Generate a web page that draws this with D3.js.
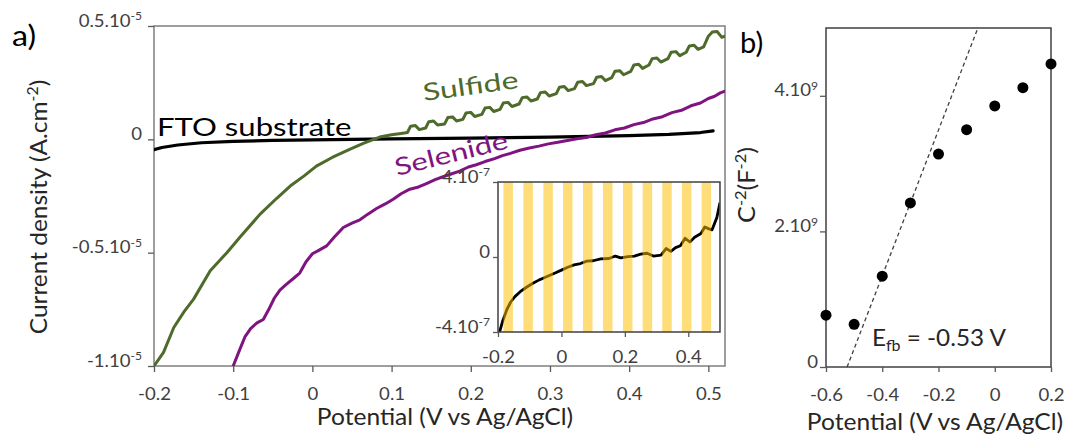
<!DOCTYPE html>
<html>
<head>
<meta charset="utf-8">
<script src="https://cdn.jsdelivr.net/npm/d3@7"></script>
<style>
  body { margin: 0; background: #fff; }
  text { font-family: Lato, sans-serif; white-space: pre; }
</style>
</head>
<body>
<svg id="chart" width="1070" height="434"></svg>
<script>
// ---- panel a : linear sweep voltammetry (current in 1e-5 A.cm-2) ----
const potentialTicksA = [-0.2, -0.1, 0, 0.1, 0.2, 0.3, 0.4, 0.5];
const currentTicksA = [-1, -0.5, 0, 0.5];
const currentTickLabelsA = [["-1.10", "-5"], ["-0.5.10", "-5"], ["0", ""], ["0.5.10", "-5"]];

const fto = [[-0.2, -0.046], [-0.19, -0.036], [-0.17, -0.025], [-0.14, -0.015], [-0.1, -0.009],
  [-0.05, -0.005], [0, -0.002], [0.1, 0.002], [0.2, 0.005], [0.3, 0.01], [0.4, 0.016],
  [0.45, 0.022], [0.49, 0.03], [0.506, 0.037]];

const sulfide = [[-0.2, -1.0], [-0.188, -0.94], [-0.175, -0.83], [-0.162, -0.76], [-0.15, -0.705],
  [-0.129, -0.58], [-0.108, -0.5], [-0.091, -0.43], [-0.066, -0.33], [-0.045, -0.26], [-0.028, -0.206],
  [-0.01, -0.16], [0.005, -0.118], [0.025, -0.08], [0.047, -0.044], [0.065, -0.017], [0.085, 0.01],
  [0.1, 0.02], [0.112, 0.026],
  [0.120, 0.030], [0.124, 0.058], [0.130, 0.061], [0.135, 0.043],
  [0.143, 0.050], [0.147, 0.078], [0.153, 0.081], [0.158, 0.063],
  [0.167, 0.068], [0.171, 0.096], [0.177, 0.099], [0.182, 0.081],
  [0.190, 0.088], [0.194, 0.116], [0.200, 0.119], [0.205, 0.101],
  [0.214, 0.110], [0.218, 0.138], [0.224, 0.141], [0.229, 0.123],
  [0.237, 0.132], [0.241, 0.160], [0.247, 0.163], [0.252, 0.145],
  [0.261, 0.156], [0.265, 0.184], [0.271, 0.187], [0.276, 0.169],
  [0.284, 0.178], [0.288, 0.206], [0.294, 0.209], [0.299, 0.191],
  [0.308, 0.202], [0.312, 0.230], [0.318, 0.233], [0.323, 0.215],
  [0.331, 0.224], [0.335, 0.252], [0.341, 0.255], [0.346, 0.237],
  [0.355, 0.246], [0.359, 0.274], [0.365, 0.277], [0.370, 0.259],
  [0.378, 0.272], [0.382, 0.300], [0.388, 0.303], [0.393, 0.285],
  [0.402, 0.300], [0.406, 0.328], [0.412, 0.331], [0.417, 0.313],
  [0.425, 0.328], [0.429, 0.356], [0.435, 0.359], [0.440, 0.341],
  [0.449, 0.356], [0.453, 0.384], [0.459, 0.387], [0.464, 0.369],
  [0.472, 0.384], [0.476, 0.412], [0.482, 0.415], [0.487, 0.397],
  [0.494, 0.408], [0.500, 0.455], [0.505, 0.474], [0.511, 0.476], [0.517, 0.450], [0.521, 0.455]];

const selenide = [[-0.1, -1.0], [-0.092, -0.93], [-0.085, -0.87], [-0.078, -0.835], [-0.07, -0.81],
  [-0.062, -0.795], [-0.055, -0.75], [-0.048, -0.70], [-0.041, -0.665], [-0.033, -0.64], [-0.024, -0.614],
  [-0.016, -0.59], [-0.008, -0.54], [0.0, -0.505], [0.008, -0.49], [0.018, -0.47], [0.028, -0.43],
  [0.039, -0.389], [0.05, -0.37], [0.06, -0.355], [0.07, -0.33], [0.081, -0.305], [0.092, -0.285],
  [0.102, -0.264], [0.112, -0.24], [0.123, -0.22], [0.134, -0.21], [0.144, -0.195], [0.155, -0.178],
  [0.165, -0.165], [0.176, -0.152], [0.186, -0.14], [0.197, -0.122], [0.207, -0.112], [0.218, -0.098],
  [0.23, -0.085], [0.24, -0.072], [0.25, -0.062], [0.262, -0.048], [0.274, -0.038], [0.286, -0.03],
  [0.298, -0.02], [0.31, -0.013], [0.322, -0.005], [0.334, 0.003], [0.346, 0.008], [0.358, 0.02],
  [0.37, 0.028], [0.382, 0.042], [0.394, 0.05], [0.406, 0.065], [0.418, 0.074], [0.43, 0.09],
  [0.442, 0.1], [0.454, 0.118], [0.466, 0.128], [0.478, 0.148], [0.49, 0.16], [0.5, 0.18],
  [0.508, 0.19], [0.515, 0.205], [0.521, 0.212]];

// ---- inset : FTO under chopped light (current in 1e-7) ----
const insetTicksX = [-0.2, 0, 0.2, 0.4];
const insetTicksY = [-4, 0, 4];
const insetTickLabels = [["-4.10", "-7"], ["0", ""], ["4.10", "-7"]];
const insetCurrent = [[-0.195, -4], [-0.185, -3.4], [-0.172, -2.8], [-0.16, -2.4], [-0.146, -2.1],
  [-0.13, -1.85], [-0.109, -1.6], [-0.09, -1.4], [-0.07, -1.22], [-0.056, -1.12], [-0.04, -1.0],
  [-0.02, -0.85], [0, -0.7], [0.02, -0.55], [0.04, -0.42], [0.06, -0.35], [0.08, -0.22], [0.1, -0.2],
  [0.124, -0.1], [0.15, -0.08], [0.17, 0.05], [0.187, -0.05], [0.21, 0.02], [0.23, 0.05], [0.25, 0.15],
  [0.27, 0.2], [0.29, 0.05], [0.314, 0.1], [0.33, 0.45], [0.345, 0.3], [0.36, 0.5], [0.375, 0.6],
  [0.39, 1.0], [0.405, 0.8], [0.42, 1.05], [0.44, 1.25], [0.452, 1.6], [0.465, 1.5], [0.475, 1.45],
  [0.49, 2.1], [0.5, 2.9]];
const lightOnStarts = [-0.183, -0.120, -0.057, 0.005, 0.068, 0.131, 0.194, 0.256, 0.318, 0.380, 0.442, 0.497];
const lightOnWidth = 0.030;

// ---- panel b : Mott-Schottky (C-2 in 1e9 F-2) ----
const mottPotential = [-0.6, -0.5, -0.4, -0.3, -0.2, -0.1, 0, 0.1, 0.2];
const mottC2 = [0.765, 0.63, 1.34, 2.42, 3.14, 3.50, 3.85, 4.12, 4.47];
const fitLine = [[-0.525, 0], [-0.06, 5]];
const bTicksX = [-0.6, -0.4, -0.2, 0, 0.2];
const bTicksY = [0, 2, 4];
const bTickLabels = [["0", ""], ["2.10", "9"], ["4.10", "9"]];


const svg = d3.select("#chart");
const TICK_FS = 16.6, TITLE_FS = 23.4;
const grey = "#595959", labelCol = "#404040";

// widen text horizontally around its anchor
function stretch(sel, k) {
    sel.each(function () {
        let t = d3.select(this), x = +t.attr("x") || 0;
        t.attr("transform", `translate(${x * (1 - k)},0) scale(${k},1)`);
    });
}

// text made of normal / superscript / subscript pieces
function rich(t, parts, fs) {
    let shift = 0;
    parts.forEach(function (p) {
        let target = p[1] === "sup" ? -0.38 * fs : p[1] === "sub" ? 0.22 * fs : 0;
        t.append("tspan")
            .attr("dy", target - shift)
            .attr("font-size", p[1] === "n" ? fs : fs * 0.65)
            .text(p[0]);
        shift = target;
    });
}

function styleAxis(g, k, values, labels) {
    g.select(".domain").remove();
    g.selectAll(".tick line").attr("stroke", grey).attr("stroke-width", 1.3);
    let txt = g.selectAll(".tick text")
        .attr("fill", labelCol)
        .attr("font-size", TICK_FS)
        .attr("font-family", "Lato, sans-serif");
    if (labels) {
        txt.text(null).each(function (d) {
            let l = labels[values.indexOf(d)];
            rich(d3.select(this), [[l[0], "n"], [l[1], "sup"]], TICK_FS);
        });
    }
    stretch(txt, k);
}

function addText(x, y, parts, fs, k, opts) {
    opts = opts || {};
    let t = svg.append("text")
        .attr("fill", opts.fill || "#000")
        .attr("text-anchor", opts.anchor || "start")
        .attr("transform", `translate(${x},${y}) rotate(${opts.rot || 0}) scale(${k},1)`);
    rich(t, parts, fs);
    return t;
}

// ================= panel a =================
const xA = d3.scaleLinear().domain([-0.2, 0.521]).range([154, 725]);
const yA = d3.scaleLinear().domain([-1, 0.5]).range([366, 26]);

svg.append("defs").append("clipPath").attr("id", "clipA")
    .append("rect")
    .attr("x", xA.range()[0]).attr("y", yA.range()[1])
    .attr("width", xA.range()[1] - xA.range()[0])
    .attr("height", yA.range()[0] - yA.range()[1]);

svg.append("rect")
    .attr("x", xA.range()[0]).attr("y", yA.range()[1])
    .attr("width", xA.range()[1] - xA.range()[0])
    .attr("height", yA.range()[0] - yA.range()[1])
    .attr("fill", "none").attr("stroke", "#7f7f7f").attr("stroke-width", 1.5);

svg.append("g").attr("transform", `translate(0,${yA(-1)})`)
    .call(d3.axisBottom(xA).tickValues(potentialTicksA).tickSize(6).tickPadding(16).tickFormat(d => String(d)))
    .call(g => styleAxis(g, 1.12));

svg.append("g").attr("transform", `translate(${xA(-0.2)},0)`)
    .call(d3.axisLeft(yA).tickValues(currentTicksA).tickSize(6).tickPadding(6))
    .call(g => styleAxis(g, 1.12, currentTicksA, currentTickLabelsA));

let lineA = d3.line().x(d => xA(d[0])).y(d => yA(d[1]));
let curvesA = svg.append("g").attr("clip-path", "url(#clipA)")
    .attr("fill", "none").attr("stroke-linejoin", "round").attr("stroke-linecap", "round");

curvesA.append("path").datum(fto).attr("d", lineA)
    .attr("stroke", "#000").attr("stroke-width", 3.2);
curvesA.append("path").datum(sulfide).attr("d", lineA)
    .attr("stroke", "#4e6b2c").attr("stroke-width", 3);
curvesA.append("path").datum(selenide).attr("d", lineA)
    .attr("stroke", "#7f1480").attr("stroke-width", 3);

addText(157, 136, [["FTO substrate", "n"]], 24.7, 1.26);
addText(424, 101, [["Sulfide", "n"]], 24.2, 1.33, { fill: "#4e6b2c", rot: -7.8 });
addText(397, 176, [["Selenide", "n"]], 24.2, 1.29, { fill: "#7f1480", rot: -14 });

// ================= inset =================
const xI = d3.scaleLinear().domain([-0.2, 0.5]).range([498, 720]);
const yI = d3.scaleLinear().domain([-4, 4]).range([332, 182]);

svg.select("defs").append("clipPath").attr("id", "clipI")
    .append("rect")
    .attr("x", xI.range()[0]).attr("y", yI.range()[1])
    .attr("width", xI.range()[1] - xI.range()[0])
    .attr("height", yI.range()[0] - yI.range()[1]);

svg.append("rect")
    .attr("x", xI.range()[0]).attr("y", yI.range()[1])
    .attr("width", xI.range()[1] - xI.range()[0])
    .attr("height", yI.range()[0] - yI.range()[1])
    .attr("fill", "#fff");

let insetG = svg.append("g").attr("clip-path", "url(#clipI)");
insetG.append("path").datum(insetCurrent)
    .attr("d", d3.line().x(d => xI(d[0])).y(d => yI(d[1])))
    .attr("fill", "none").attr("stroke", "#000").attr("stroke-width", 2.8)
    .attr("stroke-linejoin", "round");
insetG.selectAll("rect.light")
    .data(lightOnStarts)
    .join("rect")
    .attr("class", "light")
    .attr("x", d => xI(d))
    .attr("width", xI(lightOnWidth) - xI(0))
    .attr("y", yI.range()[1])
    .attr("height", yI.range()[0] - yI.range()[1])
    .attr("fill", "#ffc000")
    .attr("opacity", 0.52);

svg.append("rect")
    .attr("x", xI.range()[0]).attr("y", yI.range()[1])
    .attr("width", xI.range()[1] - xI.range()[0])
    .attr("height", yI.range()[0] - yI.range()[1])
    .attr("fill", "none").attr("stroke", "#404040").attr("stroke-width", 1.5);

svg.append("g").attr("transform", `translate(0,${yI(-4)})`)
    .call(d3.axisBottom(xI).tickValues(insetTicksX).tickSize(5).tickPadding(14).tickFormat(d => String(d)))
    .call(g => styleAxis(g, 1.12));
svg.append("g").attr("transform", `translate(${xI(-0.2)},0)`)
    .call(d3.axisLeft(yI).tickValues(insetTicksY).tickSize(5).tickPadding(3))
    .call(g => styleAxis(g, 1.12, insetTicksY, insetTickLabels));

// ================= panel b =================
const xB = d3.scaleLinear().domain([-0.6, 0.2]).range([826, 1051]);
const yB = d3.scaleLinear().domain([0, 5]).range([367, 28]);

svg.append("rect")
    .attr("x", xB.range()[0]).attr("y", yB.range()[1])
    .attr("width", xB.range()[1] - xB.range()[0])
    .attr("height", yB.range()[0] - yB.range()[1])
    .attr("fill", "none").attr("stroke", "#404040").attr("stroke-width", 1.5);

svg.append("g").attr("transform", `translate(0,${yB(0)})`)
    .call(d3.axisBottom(xB).tickValues(bTicksX).tickSize(5).tickPadding(17).tickFormat(d => String(d)))
    .call(g => styleAxis(g, 1.12));
svg.append("g").attr("transform", `translate(${xB(-0.6)},0)`)
    .call(d3.axisLeft(yB).tickValues(bTicksY).tickSize(6).tickPadding(2))
    .call(g => styleAxis(g, 1.12, bTicksY, bTickLabels));

svg.append("path").datum(fitLine)
    .attr("d", d3.line().x(d => xB(d[0])).y(d => yB(d[1])))
    .attr("fill", "none").attr("stroke", "#404040").attr("stroke-width", 1.3)
    .attr("stroke-dasharray", "4,3");

svg.append("g").selectAll("circle")
    .data(mottPotential)
    .join("circle")
    .attr("cx", d => xB(d))
    .attr("cy", (d, i) => yB(mottC2[i]))
    .attr("r", 5.5)
    .attr("fill", "#000");

addText(872, 346, [["E", "n"], ["fb", "sub"], [" = -0.53 V", "n"]], TITLE_FS, 1.04, { fill: "#262626" });

// ================= titles =================
addText(445, 425, [["Potential (V vs Ag/AgCl)", "n"]], TITLE_FS, 1.05, { anchor: "middle", fill: "#262626" });
addText(935, 430, [["Potential (V vs Ag/AgCl)", "n"]], TITLE_FS, 1.05, { anchor: "middle", fill: "#262626" });
addText(47, 207, [["Current density (A.cm", "n"], ["-2", "sup"], [")", "n"]], TITLE_FS, 1.045,
    { anchor: "middle", fill: "#262626", rot: -90 });
addText(755, 185, [["C", "n"], ["-2", "sup"], ["(F", "n"], ["-2", "sup"], [")", "n"]], TITLE_FS, 1.08,
    { anchor: "middle", fill: "#262626", rot: -90 });

addText(12, 46, [["a)", "n"]], 28, 1.15);
addText(740, 53, [["b)", "n"]], 29, 1.0);
</script>
</body>
</html>
